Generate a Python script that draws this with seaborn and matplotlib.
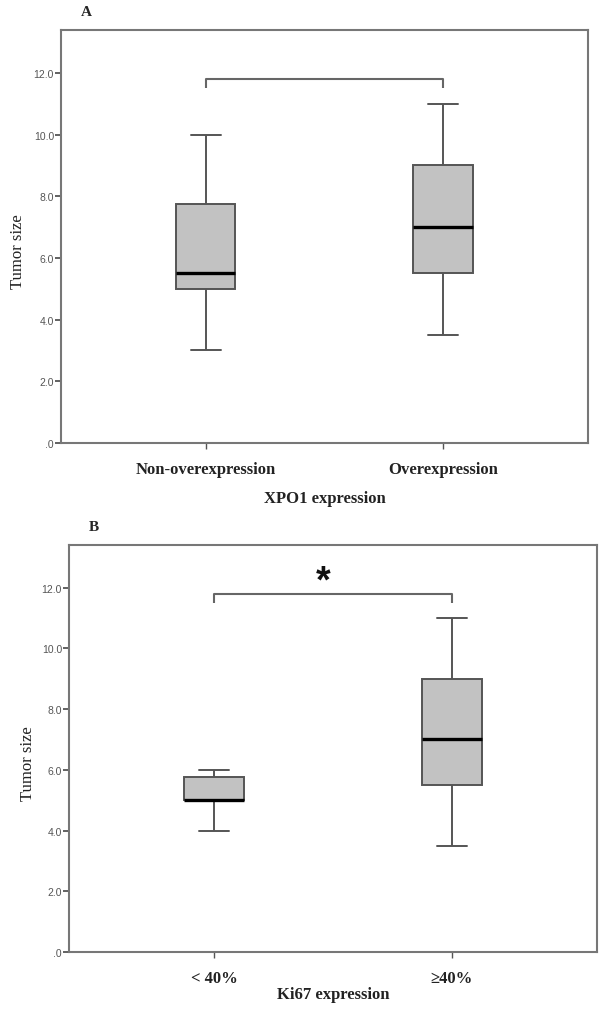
import numpy as np
import pandas as pd
import matplotlib
matplotlib.use("Agg")
import matplotlib.pyplot as plt
import seaborn as sns

# five-number summaries: min, q1, median, q3, max
xpo1_groups = ["Non-overexpression", "Overexpression"]
xpo1_non = [3.0, 5.0, 5.5, 7.75, 10.0]
xpo1_over = [3.5, 5.5, 7.0, 9.0, 11.0]

ki67_groups = ["< 40%", "\u226540%"]
ki67_low = [4.0, 5.0, 5.0, 5.75, 6.0]
ki67_high = [3.5, 5.5, 7.0, 9.0, 11.0]

y_ticks = [0, 2, 4, 6, 8, 10, 12]
y_ticklabels = [".0", "2.0", "4.0", "6.0", "8.0", "10.0", "12.0"]

sns.set_style("white")
plt.rcParams["font.family"] = ["Liberation Serif", "DejaVu Serif"]

SERIF = ["Liberation Serif", "DejaVu Serif"]
SANS = ["Liberation Sans", "DejaVu Sans"]
EDGE = "#555555"


def make_df(groups, a, b):
    return pd.DataFrame({
        "group": [groups[0]] * len(a) + [groups[1]] * len(b),
        "size": a + b,
    })


def draw_panel(ax, df, groups, xlabel, letter, xlabel_y, ylabel_x, star=False):
    sns.boxplot(data=df, x="group", y="size", order=groups, ax=ax,
                whis=(0, 100), width=0.25, color="#c2c2c2", saturation=1,
                linecolor=EDGE, linewidth=1.4,
                medianprops={"color": "black", "linewidth": 2.4})
    ax.set_xlim(-0.61, 1.61)
    ax.set_ylim(0, 13.4)
    ax.set_yticks(y_ticks)
    ax.set_yticklabels(y_ticklabels, family=SANS, fontsize=7.5, color="#555555")
    ax.set_xticks([0, 1])
    ax.set_xticklabels(groups, family=SERIF, fontsize=12, fontweight="bold",
                       color="#222222")
    ax.tick_params(axis="y", direction="out", length=4, width=1.3,
                   color=EDGE, pad=1, left=True)
    ax.tick_params(axis="x", direction="out", length=4, width=1.0,
                   color=EDGE, pad=9, bottom=True)
    for sp in ax.spines.values():
        sp.set_visible(True)
        sp.set_color("#777777")
        sp.set_linewidth(1.5)
    ax.set_xlabel(xlabel, family=SERIF, fontsize=12, fontweight="bold",
                  color="#222222")
    ax.xaxis.set_label_coords(0.5, xlabel_y)
    ax.set_ylabel("Tumor size", family=SERIF, fontsize=12, color="#222222")
    ax.yaxis.set_label_coords(ylabel_x, 0.465)

    # significance bracket
    ax.plot([0, 0, 1, 1], [11.5, 11.8, 11.8, 11.5], color="#666666",
            linewidth=1.5, solid_capstyle="butt")
    if star:
        ax.text(0.46, 12.2, "*", ha="center", va="center", fontsize=27,
                fontweight="bold", family=SANS, color="#111111")
    ax.text(0.038, 1.045, letter, transform=ax.transAxes, family=SERIF,
            fontsize=11, fontweight="bold", ha="left", va="center")


fig = plt.figure(figsize=(6.02, 10.12), dpi=100)
ax_a = fig.add_axes([0.1013, 0.5613, 0.8754, 0.4084])
ax_b = fig.add_axes([0.1146, 0.0583, 0.877, 0.402])

draw_panel(ax_a, make_df(xpo1_groups, xpo1_non, xpo1_over), xpo1_groups,
           "XPO1 expression", "A", -0.114, -0.067)
draw_panel(ax_b, make_df(ki67_groups, ki67_low, ki67_high), ki67_groups,
           "Ki67 expression", "B", -0.0835, -0.063, star=True)

fig.savefig("out.png", dpi=100, facecolor="white")
